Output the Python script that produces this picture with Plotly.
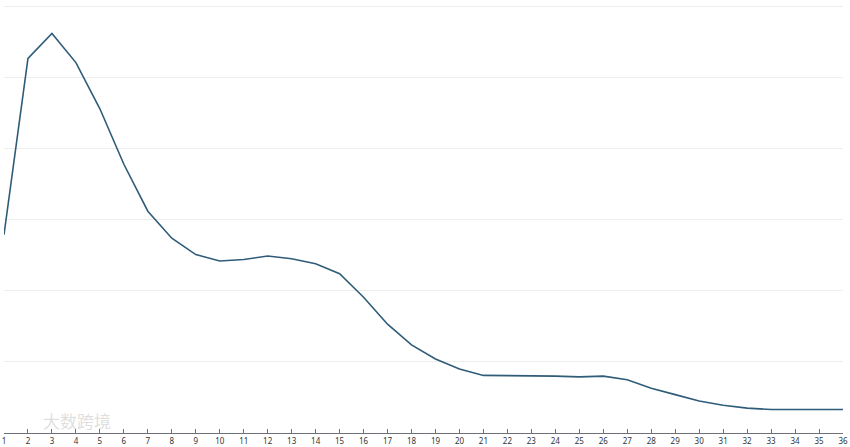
import plotly.graph_objects as go

categories = [str(i) for i in range(1, 37)]
values = [279, 527, 562, 521, 456, 378, 312, 274, 251, 242, 244, 249, 245, 238,
          224, 191, 153, 124, 104, 90, 81, 81, 80.5, 80, 79, 80, 75, 63, 54, 45,
          39, 35, 33, 33, 32, 33]

fig = go.Figure()
fig.add_trace(go.Scatter(
    x=categories, y=values, mode="lines",
    line=dict(color="#2f5c78", width=1.6),
    hoverinfo="x+y", showlegend=False, cliponaxis=False,
))

fig.update_layout(
    width=850, height=447,
    margin=dict(l=4, r=7, t=5, b=14),
    paper_bgcolor="white", plot_bgcolor="white",
    font=dict(family="Noto Sans, sans-serif", size=8, color="#333"),
    xaxis=dict(
        type="category", range=[0, 35], automargin=False,
        showgrid=False, showline=True, linecolor="#6e7079", linewidth=1,
        ticks="inside", ticklen=4, tickcolor="#6e7079",
        tickfont=dict(size=8, color="#333"), tickangle=0,
        zeroline=False, fixedrange=True,
    ),
    yaxis=dict(
        range=[0, 602], tickvals=[100, 200, 300, 400, 500, 600],
        showticklabels=False, automargin=False,
        showgrid=True, gridcolor="#eeeeee", gridwidth=1,
        zeroline=False, showline=False, ticks="", fixedrange=True,
    ),
    annotations=[dict(
        text="大数跨境", x=0.0, y=0.0, xref="paper", yref="paper",
        xanchor="left", yanchor="bottom", xshift=37, yshift=-2,
        showarrow=False, font=dict(size=17, color="rgba(195,195,195,0.55)",
                                   family="Noto Sans CJK SC"),
    )],
)

fig.write_html("out.html", config={"displayModeBar": False},
               post_script="document.body.style.margin='0';document.body.style.padding='0';")
